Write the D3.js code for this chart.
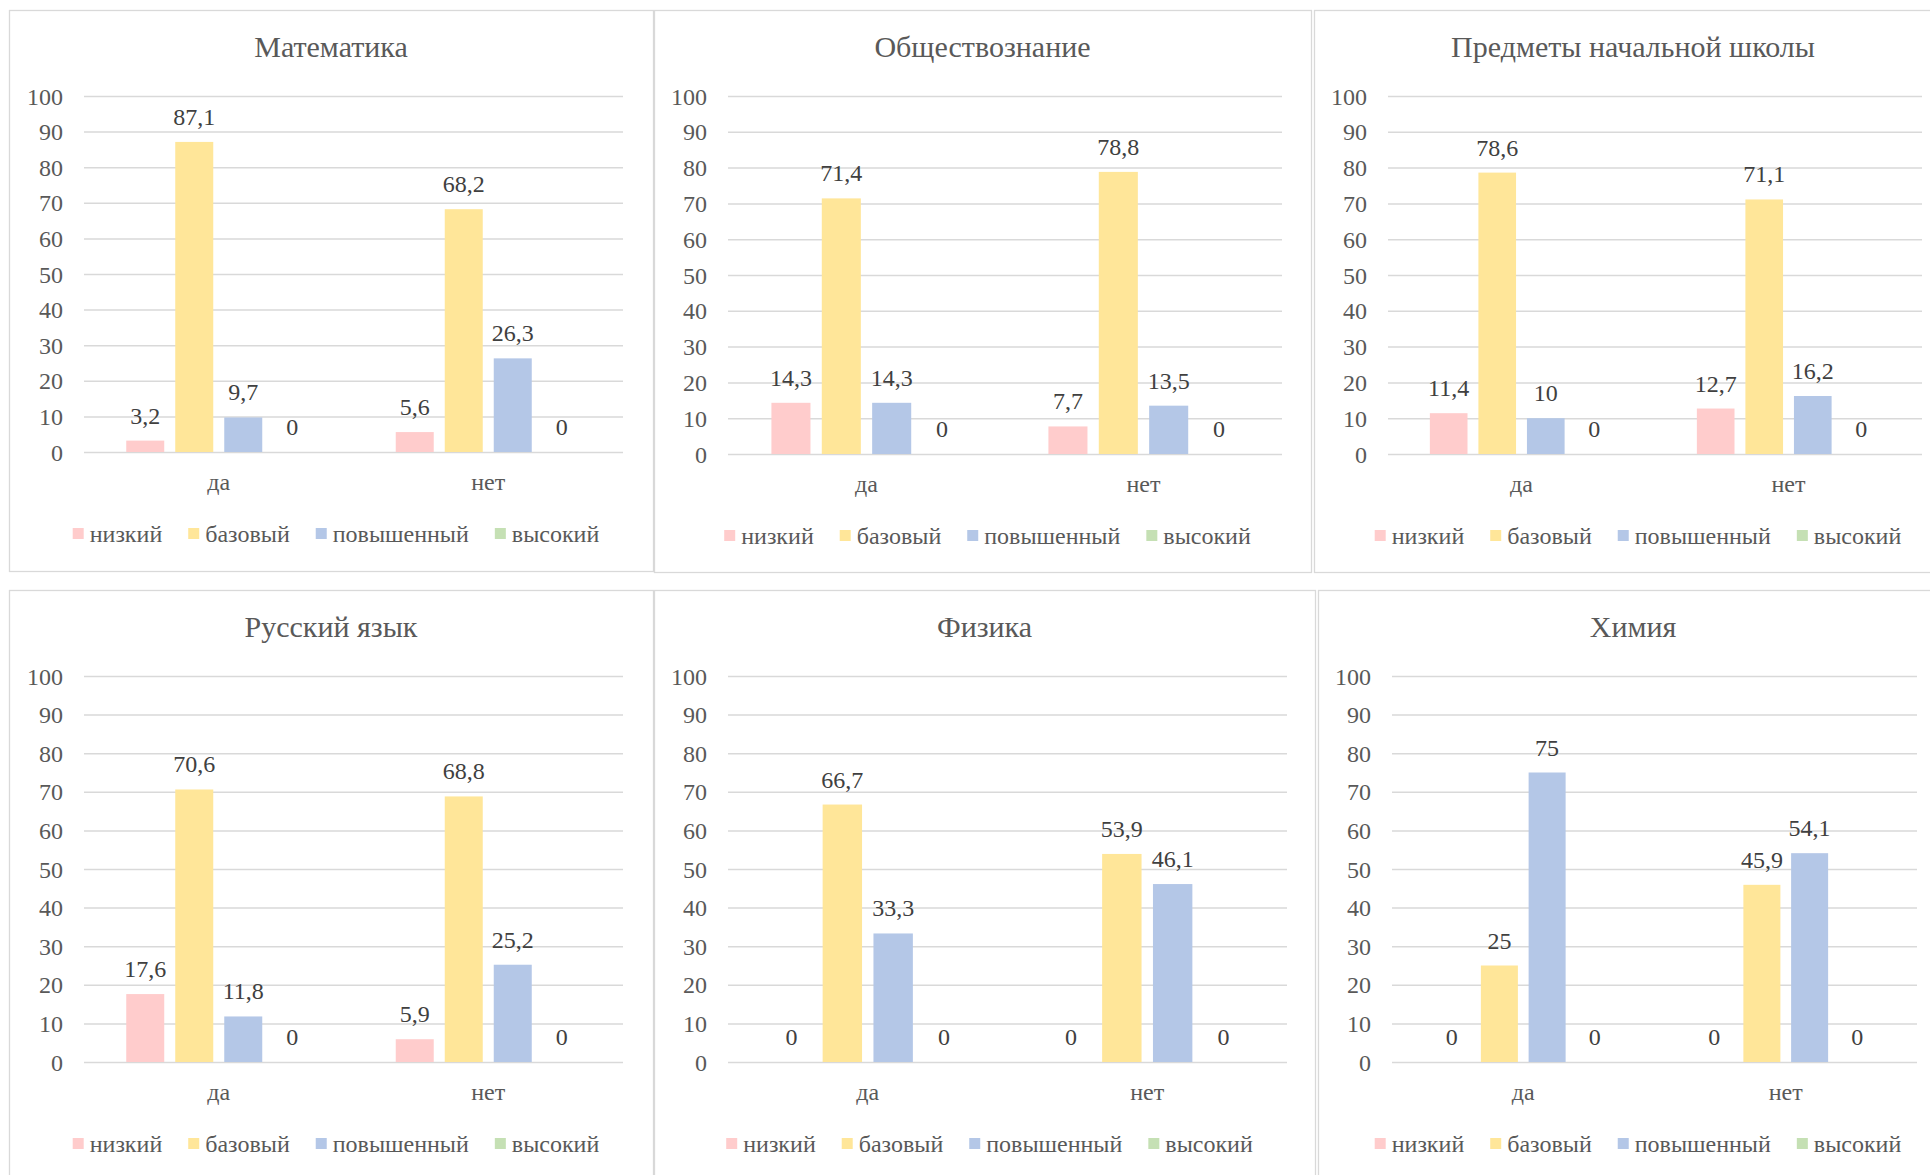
<!DOCTYPE html>
<html>
<head>
<meta charset="utf-8">
<script src="https://cdn.jsdelivr.net/npm/d3@7"></script>
<style>
  body { margin: 0; background: #fff; }
  svg { display: block; font-family: 'Liberation Serif', 'Times New Roman', serif; }
</style>
</head>
<body>
<svg id="chart" width="1930" height="1175"></svg>
<script>
// chart data
var subjects = ['Математика', 'Обществознание', 'Предметы начальной школы', 'Русский язык', 'Физика', 'Химия'];
var categories = ['да', 'нет'];
var levels = ['низкий', 'базовый', 'повышенный', 'высокий'];
var levelColors = ['#ffcccc', '#ffe699', '#b4c7e7', '#c5e0b4'];
var yTicks = [0, 10, 20, 30, 40, 50, 60, 70, 80, 90, 100];

// values per subject, [да, нет]
var lowValues      = [[3.2, 5.6], [14.3, 7.7], [11.4, 12.7], [17.6, 5.9], [0, 0], [0, 0]];
var baseValues     = [[87.1, 68.2], [71.4, 78.8], [78.6, 71.1], [70.6, 68.8], [66.7, 53.9], [25, 45.9]];
var advancedValues = [[9.7, 26.3], [14.3, 13.5], [10, 16.2], [11.8, 25.2], [33.3, 46.1], [75, 54.1]];
var highValues     = [[0, 0], [0, 0], [0, 0], [0, 0], [0, 0], [0, 0]];

// panel layout: outer box [x0, y0, x1, y1], plot area [left, right, top, bottom]
var panels = [
  { box: [9, 10, 653, 571],     plot: [84, 623, 96, 452] },
  { box: [654, 10, 1311, 572],  plot: [728, 1282, 96, 454] },
  { box: [1314, 10, 1952, 572], plot: [1388, 1922, 96, 454] },
  { box: [9, 590, 653, 1181],   plot: [84, 623, 676, 1062] },
  { box: [654, 590, 1315, 1181], plot: [728, 1287, 676, 1062] },
  { box: [1318, 590, 1948, 1181], plot: [1392, 1917, 676, 1062] }
];

var textColor = '#595959',
    labelColor = '#404040',
    gridColor = '#d9d9d9';

var svg = d3.select('#chart');

svg.append('rect')
    .attr('width', 1930)
    .attr('height', 1175)
    .attr('fill', '#fff');

function fmt(v) {
  return String(v).replace('.', ',');
}

panels.forEach(function (p, i) {

  var data = categories.map(function (cat, j) {
    return {
      cat: cat,
      values: [lowValues[i][j], baseValues[i][j], advancedValues[i][j], highValues[i][j]]
    };
  });

  var left = p.plot[0], right = p.plot[1], top = p.plot[2], bottom = p.plot[3];
  var cx = (p.box[0] + p.box[2]) / 2;

  var g = svg.append('g');

  // chart frame
  g.append('rect')
      .attr('x', p.box[0] + 0.5)
      .attr('y', p.box[1] + 0.5)
      .attr('width', p.box[2] - p.box[0])
      .attr('height', p.box[3] - p.box[1])
      .attr('fill', 'none')
      .attr('stroke', gridColor)
      .attr('stroke-width', 1.3);

  // title
  g.append('text')
      .attr('x', cx)
      .attr('y', p.box[1] + 47)
      .attr('text-anchor', 'middle')
      .attr('font-size', 30)
      .attr('fill', textColor)
      .text(subjects[i]);

  var x0 = d3.scaleBand()
      .domain(categories)
      .range([left, right]);

  var x1 = d3.scaleBand()
      .domain(d3.range(levels.length))
      .range([0, x0.bandwidth()])
      .paddingInner(0.2245)
      .paddingOuter(0.862);

  var y = d3.scaleLinear()
      .domain([0, 100])
      .range([bottom, top]);

  // y axis with gridlines
  var yAxis = g.append('g')
      .attr('transform', 'translate(' + left + ',0)')
      .call(d3.axisLeft(y).tickValues(yTicks).tickSize(-(right - left)).tickPadding(21))
      .attr('font-family', null)
      .attr('font-size', 24);

  yAxis.select('.domain').remove();
  yAxis.selectAll('.tick line')
      .attr('stroke', gridColor)
      .attr('stroke-width', 1.5);
  yAxis.selectAll('.tick text')
      .attr('fill', textColor)
      .attr('dy', '0.34em');

  // bars
  var groups = g.append('g')
    .selectAll('g')
    .data(data)
    .enter().append('g')
      .attr('transform', function (d) { return 'translate(' + x0(d.cat) + ',0)'; });

  groups.selectAll('rect')
    .data(function (d) { return d.values; })
    .enter().append('rect')
      .attr('x', function (d, k) { return x1(k); })
      .attr('y', function (d) { return y(d); })
      .attr('width', x1.bandwidth())
      .attr('height', function (d) { return bottom - y(d); })
      .attr('fill', function (d, k) { return levelColors[k]; });

  groups.selectAll('text')
    .data(function (d) { return d.values; })
    .enter().append('text')
      .attr('x', function (d, k) { return x1(k) + x1.bandwidth() / 2; })
      .attr('y', function (d) { return y(d) - 17; })
      .attr('text-anchor', 'middle')
      .attr('font-size', 24)
      .attr('fill', labelColor)
      .text(fmt);

  // category axis
  var xAxis = g.append('g')
      .attr('transform', 'translate(0,' + bottom + ')')
      .call(d3.axisBottom(x0).tickSize(0))
      .attr('font-family', null)
      .attr('font-size', 24);

  xAxis.select('.domain').remove();
  xAxis.selectAll('.tick text')
      .attr('fill', textColor)
      .attr('y', 38)
      .attr('dy', null);

  // legend
  var legend = g.append('g');
  var items = legend.selectAll('g')
    .data(levels)
    .enter().append('g');

  items.append('rect')
      .attr('y', bottom + 90 - 14)
      .attr('width', 11)
      .attr('height', 11)
      .attr('fill', function (d, k) { return levelColors[k]; });

  items.append('text')
      .attr('x', 17)
      .attr('y', bottom + 90)
      .attr('font-size', 24)
      .attr('fill', textColor)
      .text(function (d) { return d; });

  var offsets = [], pos = 0;
  items.each(function () {
    var w = this.querySelector('text').getComputedTextLength();
    offsets.push(pos);
    pos += 17 + w + 26;
  });
  var total = pos - 26;
  var start = cx + 5 - total / 2;

  items.attr('transform', function (d, k) { return 'translate(' + (start + offsets[k]) + ',0)'; });
});
</script>
</body>
</html>
